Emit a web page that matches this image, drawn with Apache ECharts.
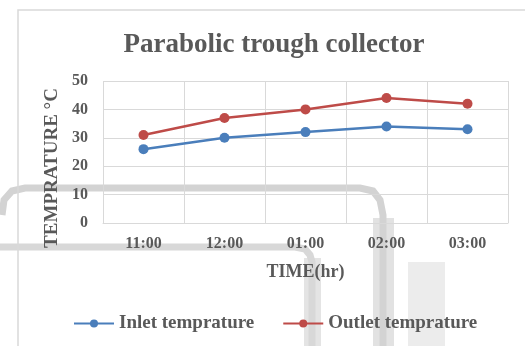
<!DOCTYPE html>
<html><head><meta charset="utf-8">
<script src="https://cdn.jsdelivr.net/npm/echarts@6/dist/echarts.min.js"></script>
<style>html,body{margin:0;padding:0;background:#fff;}#c{width:525px;height:346px;}</style>
</head><body><div id="c"></div>
<script>
const categories = ['11:00','12:00','01:00','02:00','03:00'];
const inletValues = [26, 30, 32, 34, 33];
const outletValues = [31, 37, 40, 44, 42];
const yTicks = [0, 10, 20, 30, 40, 50];

const font = "'Liberation Serif', 'Times New Roman', serif";
const txt = '#595959';
const chart = echarts.init(document.getElementById('c'), null, {renderer:'canvas'});
chart.setOption({
  animation: false,
  backgroundColor: '#fff',
  graphic: [
    {type:'rect', shape:{x:18, y:10, width:520, height:350}, style:{fill:'none', stroke:'#d9d9d9', lineWidth:1.5}, silent:true, z:-1},
    {type:'rect', shape:{x:373, y:218, width:21, height:128}, style:{fill:'#e2e2e2'}, silent:true, z:-3},
    {type:'rect', shape:{x:304, y:258, width:17, height:88}, style:{fill:'#e4e4e4'}, silent:true, z:-3},
    {type:'rect', shape:{x:408, y:262, width:37, height:90}, style:{fill:'#ececec'}, silent:true, z:-3},
    {type:'polyline', shape:{points:[[2,215],[4,200],[12,191],[25,188],[360,188],[373,191],[380,200],[383,215],[383,346]]}, style:{fill:'none', stroke:'#d3d3d3', lineWidth:7}, silent:true, z:-2},
    {type:'polyline', shape:{points:[[0,247],[295,247],[305,249],[310,255],[312,262],[312,346]]}, style:{fill:'none', stroke:'#d8d8d8', lineWidth:7}, silent:true, z:-2}
  ],
  title: {
    text: 'Parabolic trough collector', left: 269, top: 27, textAlign: 'center',
    textStyle: {fontFamily: font, fontSize: 27, fontWeight: 'bold', color: txt}
  },
  legend: {
    top: 314, left: 73, padding: 0, itemGap: 28, itemWidth: 40, itemHeight: 10,
    textStyle: {fontFamily: font, fontSize: 19, fontWeight: 'bold', color: txt},
    data: ['Inlet temprature', 'Outlet temprature']
  },
  grid: {left: 103, right: 17, top: 81, bottom: 123},
  xAxis: {
    type: 'category', data: categories, boundaryGap: true,
    name: 'TIME(hr)', nameLocation: 'middle', nameGap: 40,
    nameTextStyle: {fontFamily: font, fontSize: 18, fontWeight: 'bold', color: txt},
    axisLine: {lineStyle: {color: '#d9d9d9'}},
    axisTick: {show: false},
    splitLine: {show: true, lineStyle: {color: '#d9d9d9'}},
    axisLabel: {fontFamily: font, fontSize: 16, fontWeight: 'bold', color: txt, margin: 13}
  },
  yAxis: {
    type: 'value', min: yTicks[0], max: yTicks[yTicks.length-1], interval: 10,
    name: 'TEMPRATURE °C', nameLocation: 'middle', nameGap: 38, nameRotate: 90,
    nameTextStyle: {fontFamily: font, fontSize: 19, fontWeight: 'bold', color: txt, padding:[0,32,0,0]},
    axisLine: {show: false}, axisTick: {show: false},
    splitLine: {lineStyle: {color: '#d9d9d9'}},
    axisLabel: {fontFamily: font, fontSize: 16, fontWeight: 'bold', color: txt, margin: 15}
  },
  series: [
    {name: 'Inlet temprature', type: 'line', data: inletValues, symbol: 'circle', symbolSize: 10,
     lineStyle: {width: 2.5, color: '#4A7EBB'}, itemStyle: {color: '#4A7EBB'}},
    {name: 'Outlet temprature', type: 'line', data: outletValues, symbol: 'circle', symbolSize: 10,
     lineStyle: {width: 2.5, color: '#BE4B48'}, itemStyle: {color: '#BE4B48'}}
  ]
});
</script></body></html>
